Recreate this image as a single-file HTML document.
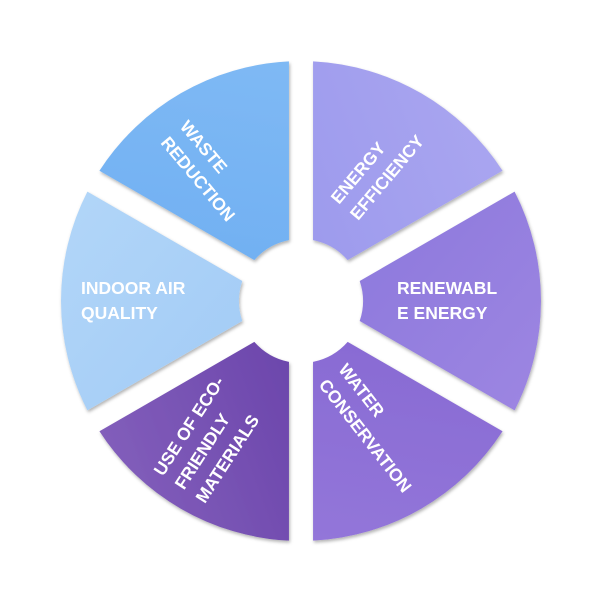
<!DOCTYPE html>
<html><head><meta charset="utf-8"><style>
html,body{margin:0;padding:0;background:#fff;}
svg{display:block}
text{font-family:"Liberation Sans",sans-serif;font-weight:bold;font-size:17.5px;fill:#fff;text-anchor:start;}
</style></head><body>
<svg width="602" height="602" viewBox="0 0 602 602">
<defs>
<filter id="sh" x="-20%" y="-20%" width="140%" height="140%">
<feDropShadow dx="1" dy="2" stdDeviation="1.5" flood-color="#000" flood-opacity="0.3"/>
</filter>
<linearGradient id="g1" x1="0" y1="0" x2="1" y2="1"><stop offset="0" stop-color="#9a98ec"/><stop offset="1" stop-color="#aaa6f0"/></linearGradient>
<linearGradient id="g2" x1="0" y1="0" x2="1" y2="1"><stop offset="0" stop-color="#8c78dc"/><stop offset="1" stop-color="#9d86e2"/></linearGradient>
<linearGradient id="g3" x1="0" y1="0" x2="1" y2="1"><stop offset="0" stop-color="#8668d2"/><stop offset="1" stop-color="#9477da"/></linearGradient>
<linearGradient id="g4" x1="0" y1="0" x2="1" y2="1"><stop offset="0" stop-color="#6640a8"/><stop offset="1" stop-color="#8460bc"/></linearGradient>
<linearGradient id="g5" x1="0" y1="0" x2="1" y2="1"><stop offset="0" stop-color="#a2cbf6"/><stop offset="1" stop-color="#b2d6f8"/></linearGradient>
<linearGradient id="g6" x1="0" y1="0" x2="1" y2="1"><stop offset="0" stop-color="#6eaef2"/><stop offset="1" stop-color="#80baf4"/></linearGradient>
</defs>
<g transform="translate(301,301)" filter="url(#sh)">
<path transform="rotate(300)" fill="url(#g1)" d="M58.7 -20 L213.6 -109.4 A240 240 0 0 1 213.6 109.4 L58.7 20 A62 62 0 0 0 58.7 -20Z"/>
<path transform="rotate(0)" fill="url(#g2)" d="M58.7 -20 L213.6 -109.4 A240 240 0 0 1 213.6 109.4 L58.7 20 A62 62 0 0 0 58.7 -20Z"/>
<path transform="rotate(60)" fill="url(#g3)" d="M58.7 -20 L213.6 -109.4 A240 240 0 0 1 213.6 109.4 L58.7 20 A62 62 0 0 0 58.7 -20Z"/>
<path transform="rotate(120)" fill="url(#g4)" d="M58.7 -20 L213.6 -109.4 A240 240 0 0 1 213.6 109.4 L58.7 20 A62 62 0 0 0 58.7 -20Z"/>
<path transform="rotate(180)" fill="url(#g5)" d="M58.7 -20 L213.6 -109.4 A240 240 0 0 1 213.6 109.4 L58.7 20 A62 62 0 0 0 58.7 -20Z"/>
<path transform="rotate(240)" fill="url(#g6)" d="M58.7 -20 L213.6 -109.4 A240 240 0 0 1 213.6 109.4 L58.7 20 A62 62 0 0 0 58.7 -20Z"/>
</g>
<g transform="translate(160,143) rotate(50)"><text y="-25">WASTE</text><text y="0">REDUCTION</text></g>
<g transform="translate(339,205) rotate(-50)"><text y="0">ENERGY</text><text y="25">EFFICIENCY</text></g>
<text x="397" y="294">RENEWABL</text><text x="397" y="319">E ENERGY</text>
<g transform="translate(318,385) rotate(52)"><text y="-25">WATER</text><text y="0">CONSERVATION</text></g>
<g transform="translate(163,477) rotate(-57)"><text y="0">USE OF ECO-</text><text y="25">FRIENDLY</text><text y="50">MATERIALS</text></g>
<text x="81" y="294">INDOOR AIR</text><text x="81" y="319">QUALITY</text>
</svg>
</body></html>
